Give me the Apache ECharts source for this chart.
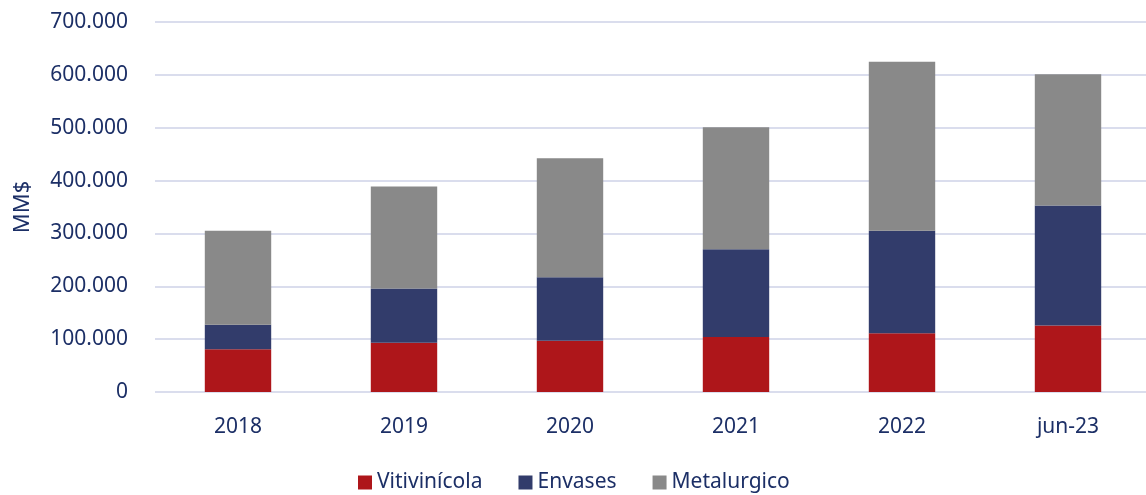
<!DOCTYPE html>
<html>
<head>
<meta charset="utf-8">
<script src="https://cdn.jsdelivr.net/npm/echarts@6/dist/echarts.min.js"></script>
<style>
  html, body { margin: 0; padding: 0; background: #fff; }
  #chart { width: 1146px; height: 495px; }
</style>
</head>
<body>
<div id="chart"></div>
<script>
// datos
const categories = ["2018", "2019", "2020", "2021", "2022", "jun-23"];
const vitivinicola = [81000, 93000, 97000, 104000, 111000, 126000];
const envases = [46000, 103000, 120000, 166000, 194000, 227000];
const metalurgico = [178000, 193000, 225000, 231000, 320000, 248000];

const textColor = "#1c2f66";
const fontFamily = "'Noto Sans', 'Open Sans', sans-serif";

const chart = echarts.init(document.getElementById("chart"));

const barSeries = (name, data, color) => ({
  name: name,
  type: "bar",
  stack: "total",
  barWidth: "40%",
  data: data,
  itemStyle: { color: color },
});

const option = {
  animation: false,
  textStyle: { fontFamily: fontFamily },
  grid: { left: 155, width: 996, top: 22, bottom: 103, outerBoundsMode: "none" },
  legend: {
    top: 467,
    left: 353,
    itemWidth: 14,
    itemHeight: 14,
    itemGap: 36,
    icon: "rect",
    textStyle: { fontSize: 21, color: textColor, fontFamily: fontFamily },
  },
  xAxis: {
    type: "category",
    data: categories,
    axisLine: { show: false },
    axisTick: { show: false },
    axisLabel: { fontSize: 21, color: textColor, margin: 25 },
  },
  yAxis: {
    type: "value",
    min: 0,
    max: 700000,
    interval: 100000,
    name: "MM$",
    nameLocation: "middle",
    nameGap: 121,
    nameTextStyle: { fontSize: 22, color: textColor },
    axisLine: { show: false },
    axisTick: { show: false },
    axisLabel: {
      fontSize: 21,
      color: textColor,
      margin: 27,
      formatter: (val) => {
        return val.toString().replace(/\B(?=(\d{3})+(?!\d))/g, ".");
      },
    },
    splitLine: { lineStyle: { color: "#dadded", width: 2 } },
  },
  series: [
    barSeries("Vitivinícola", vitivinicola, "#ae161a"),
    barSeries("Envases", envases, "#323c6b"),
    barSeries("Metalurgico", metalurgico, "#898989"),
  ],
};

chart.setOption(option);
</script>
</body>
</html>
